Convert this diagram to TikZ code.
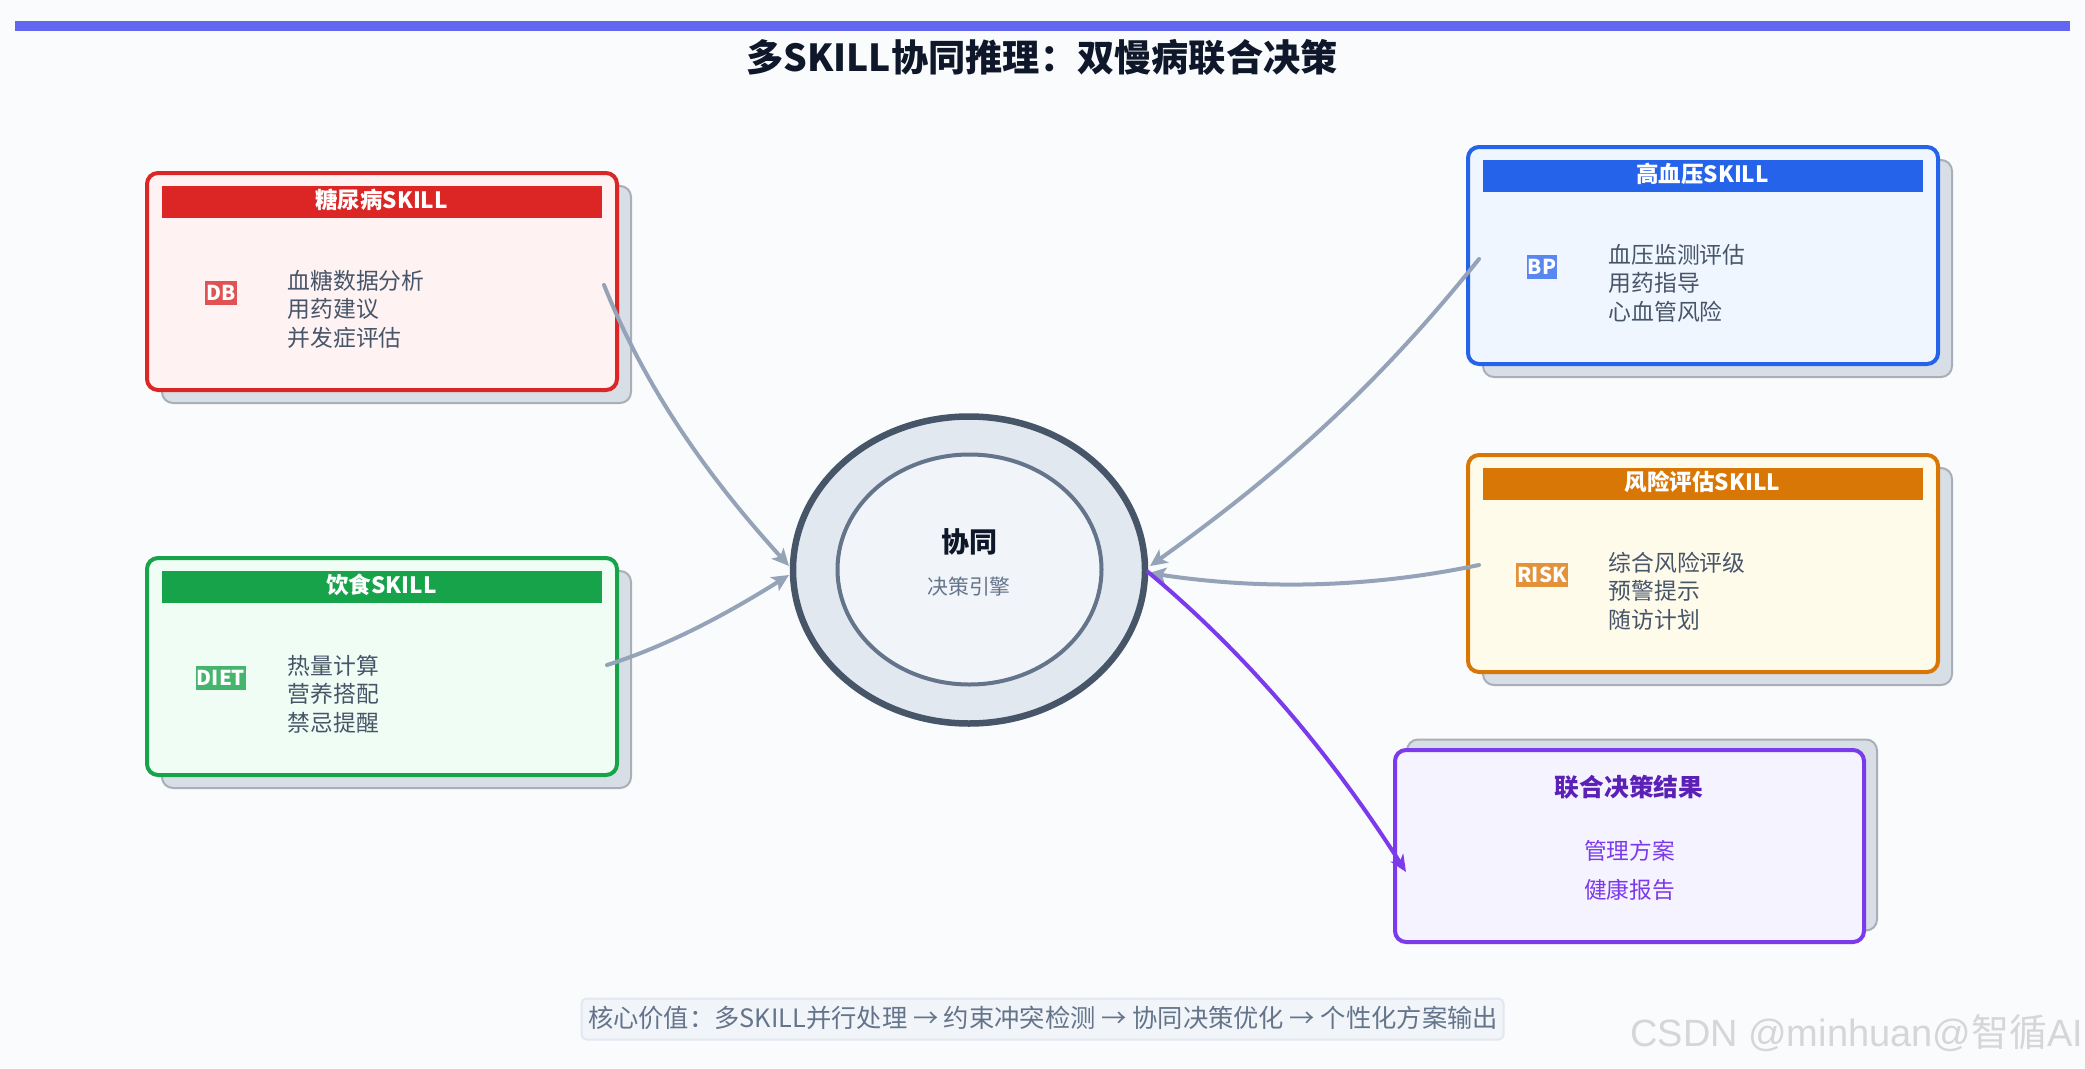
\documentclass[tikz,border=0pt]{standalone}
\usepackage{fontspec}
\setmainfont{Noto Sans CJK SC}
\newfontfamily\wmfont{Liberation Sans}
\usetikzlibrary{arrows.meta,shapes.geometric}
\definecolor{pagebg}{HTML}{FAFBFD}
\definecolor{barc}{HTML}{6366F1}
\definecolor{inkdark}{HTML}{0F172A}
\definecolor{inkmid}{HTML}{475569}
\definecolor{inkgrey}{HTML}{64748B}
\definecolor{shadowf}{HTML}{D8DEE6}
\definecolor{shadowd}{HTML}{A9AFB6}
\definecolor{hubo}{HTML}{E2E8F0}
\definecolor{hubi}{HTML}{F1F5F9}
\definecolor{arrowg}{HTML}{94A3B8}
\definecolor{redc}{HTML}{DC2626}\definecolor{redf}{HTML}{FEF2F2}\definecolor{redb}{HTML}{E35252}
\definecolor{grnc}{HTML}{16A34A}\definecolor{grnf}{HTML}{F0FDF4}\definecolor{grnb}{HTML}{45B56E}
\definecolor{bluc}{HTML}{2563EB}\definecolor{bluf}{HTML}{EFF6FF}\definecolor{blub}{HTML}{5A86F0}
\definecolor{orac}{HTML}{D97706}\definecolor{oraf}{HTML}{FFFBEB}\definecolor{orab}{HTML}{E1923A}
\definecolor{purc}{HTML}{7C3AED}\definecolor{purf}{HTML}{F5F3FF}\definecolor{purd}{HTML}{5B21B6}
\definecolor{wmark}{HTML}{D4D6D8}
\tikzset{
  card/.style={draw,line width=4pt,rounded corners=11pt,inner sep=0pt,minimum width=470pt,minimum height=217pt},
  cardshadow/.style={draw=shadowd,fill=shadowf,line width=2pt,rounded corners=11pt,inner sep=0pt,minimum width=469pt,minimum height=217pt},
  headbar/.style={inner sep=0pt,minimum width=440pt,minimum height=32pt,text=white,font=\fontsize{22.5}{22.5}\bfseries\selectfont},
  badge/.style={inner sep=0pt,minimum height=24pt,text=white,font=\fontsize{20.5}{20.5}\bfseries\selectfont},
  itemlist/.style={inner sep=0pt,anchor=west,align=left,text=inkmid,font=\fontsize{22.8}{28.5}\selectfont},
  flow/.style={draw=arrowg,line width=4pt,line cap=round,-{Stealth[length=17pt,width=16pt,inset=4pt]}},
  flowres/.style={draw=purc,line width=4pt,line cap=round,-{Stealth[length=17pt,width=15pt,inset=5pt]}},
}
\newcommand{\skillcard}[9]{%
  \node[cardshadow] (#1s) at (#2+234.5+14,#3+108.5+13) {};
  \node[card,draw=#4,fill=#5] (#1) at (#2+234,#3+108.5) {};
  \node[headbar,fill=#4] (#1h) at (#2+233.5,#3+28.5) {\raisebox{5pt}{#6}};
  \node[badge,#7] (#1b) at (#2+#8,#3+120) {\raisebox{1pt}{\kern1pt\csname badgetxt#1\endcsname\kern1pt}};
  \node[itemlist] (#1t) at (#2+139.5,#3+136) {#9};
}
\expandafter\def\csname badgetxtdb\endcsname{DB}
\expandafter\def\csname badgetxtdiet\endcsname{DIET}
\expandafter\def\csname badgetxtbp\endcsname{BP}
\expandafter\def\csname badgetxtrisk\endcsname{RISK}
\begin{document}
\begin{tikzpicture}[x=1pt,y=-1pt]
\useasboundingbox (0,0) rectangle (2085,1068);
\fill[pagebg] (0,0) rectangle (2085,1068);
\fill[barc] (15,21) rectangle (2070,31);
\node[inner sep=0pt,text=inkdark,font=\fontsize{37.2}{37.2}\bfseries\selectfont] (title) at (1042,57) {多SKILL协同推理：双慢病联合决策};

\skillcard{db}{148}{173}{redc}{redf}{糖尿病SKILL}{fill=redb}{73}{血糖数据分析\\用药建议\\并发症评估}
\skillcard{diet}{148}{558}{grnc}{grnf}{饮食SKILL}{fill=grnb}{73}{热量计算\\营养搭配\\禁忌提醒}
\skillcard{bp}{1469}{147}{bluc}{bluf}{高血压SKILL}{fill=blub}{73}{血压监测评估\\用药指导\\心血管风险}
\skillcard{risk}{1469}{455}{orac}{oraf}{风险评估SKILL}{fill=orab}{73}{综合风险评级\\预警提示\\随访计划}

\node[draw=shadowd,fill=shadowf,line width=2pt,rounded corners=11pt,minimum width=470pt,minimum height=191pt,inner sep=0pt] (ress) at (1642,835) {};
\node[draw=purc,fill=purf,line width=4pt,rounded corners=11pt,minimum width=469pt,minimum height=192pt,inner sep=0pt] (res) at (1629.5,846) {};
\node[inner sep=0pt,text=purd,font=\fontsize{24.7}{24.7}\bfseries\selectfont] (restitle) at (1629,787) {联合决策结果};
\node[inner sep=0pt,text=purc,font=\fontsize{22.7}{22.7}\selectfont] (resa) at (1629.5,851) {管理方案};
\node[inner sep=0pt,text=purc,font=\fontsize{22.7}{22.7}\selectfont] (resb) at (1629.5,890) {健康报告};

\node[ellipse,draw=inkmid,fill=hubo,line width=6.5pt,minimum width=352pt,minimum height=307pt,inner sep=0pt] (hub) at (969,570) {};
\node[ellipse,draw=inkgrey,fill=hubi,line width=4pt,minimum width=264pt,minimum height=230pt,inner sep=0pt] (hubin) at (969.5,569.5) {};
\node[inner sep=0pt,text=inkdark,font=\fontsize{28}{28}\bfseries\selectfont] (hubt) at (969,542) {协同};
\node[inner sep=0pt,text=inkgrey,font=\fontsize{20.8}{20.8}\selectfont] (hubs) at (969,587) {决策引擎};

\coordinate (dbout) at (604,285);
\coordinate (dietout) at (607,665);
\coordinate (bpout) at (1479,259);
\coordinate (riskout) at (1479,565);
\coordinate (hubnw) at (789,566);
\coordinate (hubsw) at (789,575);
\coordinate (hubne) at (1150,566);
\coordinate (hubee) at (1149,573);
\coordinate (hubout) at (1148,572);
\coordinate (resin) at (1406,872);
\draw[flow] (dbout) .. controls (650,400) and (720,490) .. (hubnw);
\draw[flow] (dietout) .. controls (670,645) and (730,612) .. (hubsw);
\draw[flow] (bpout) .. controls (1370,395) and (1270,480) .. (hubne);
\draw[flow] (riskout) .. controls (1370,588) and (1260,590) .. (hubee);
\draw[flowres] (hubout) .. controls (1243,651) and (1329,751) .. (resin);

\node[draw=hubo,fill=hubi,line width=2pt,rounded corners=5pt,minimum width=922pt,minimum height=41pt,inner sep=0pt] (note) at (1042.5,1019) {};
\node[inner sep=0pt,text=inkgrey,font=\fontsize{25.3}{25.3}\selectfont] (notet) at (1043,1018) {核心价值：多SKILL并行处理 → 约束冲突检测 → 协同决策优化 → 个性化方案输出};
\node[inner sep=0pt,anchor=west,text=wmark,font=\fontsize{38}{38}\selectfont] (wm) at (1630,1033) {{\wmfont CSDN @minhuan@}智循{\wmfont AI}};
\end{tikzpicture}
\end{document}
